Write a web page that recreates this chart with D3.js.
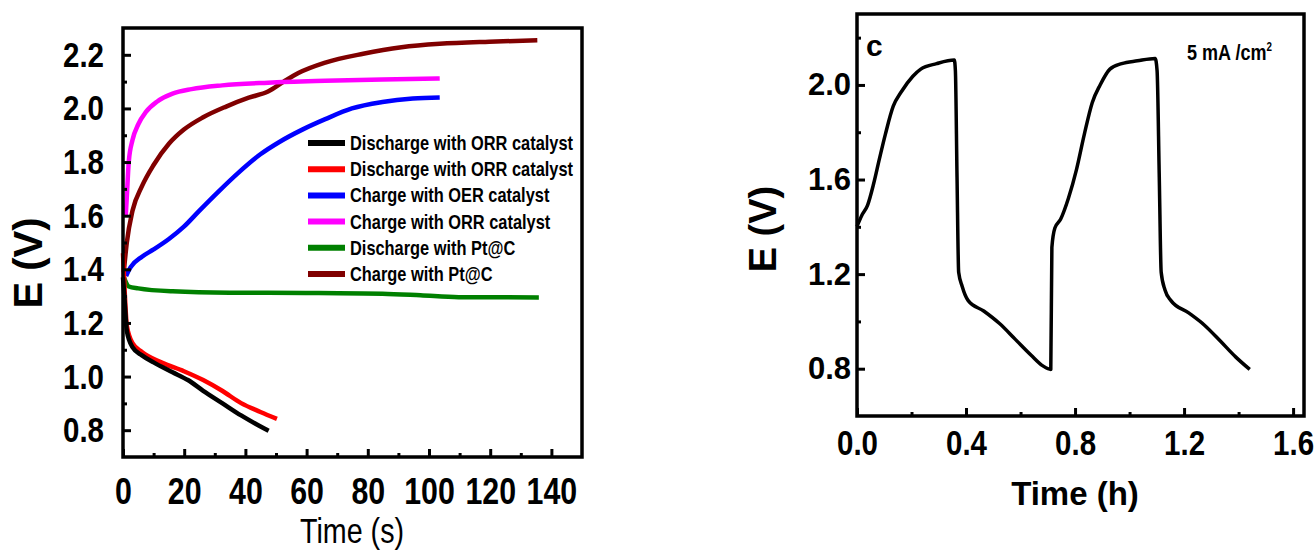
<!DOCTYPE html>
<html>
<head>
<meta charset="utf-8">
<script src="https://cdn.jsdelivr.net/npm/d3@7"></script>
<style>
  body { margin: 0; background: #fff; }
  svg { display: block; }
  text { font-family: 'Liberation Sans', Arial, sans-serif; }
</style>
</head>
<body>
<svg width="1314" height="552"></svg>
<script>
// ---- Данные левого графика (время, с / потенциал, В) ----
const blackT = [0, 0.5, 1.25, 3.1, 6.2, 10, 16.2, 21.2, 26.2, 32.4, 38.6, 43.6, 47.6];
const blackE = [1.37, 1.29, 1.17, 1.11, 1.079, 1.053, 1.016, 0.987, 0.947, 0.901, 0.855, 0.822, 0.798];

const redT = [0, 0.5, 1.25, 3.1, 6.2, 12.5, 19.9, 26.2, 32.4, 38.6, 44.9, 50.3];
const redE = [1.46, 1.33, 1.19, 1.125, 1.092, 1.053, 1.02, 0.987, 0.947, 0.901, 0.868, 0.842];

const blueT = [1, 2.5, 6.2, 10, 15, 19.9, 24.9, 31.2, 37.4, 44.9, 51.1, 58.6, 66.1, 74.8, 84.8, 94.7, 103.5];
const blueE = [1.375, 1.408, 1.447, 1.474, 1.513, 1.559, 1.618, 1.69, 1.757, 1.829, 1.875, 1.921, 1.96, 2.0, 2.024, 2.037, 2.041];

const magentaT = [0.9, 1.25, 1.9, 3.1, 5, 7.5, 11.2, 16.2, 22.4, 32.4, 47.4, 66.1, 84.8, 103.5];
const magentaE = [1.6, 1.671, 1.803, 1.882, 1.941, 1.987, 2.026, 2.055, 2.072, 2.086, 2.096, 2.103, 2.108, 2.112];

const greenT = [0.3, 1.9, 5, 16.2, 34.9, 59.8, 84.8, 97.2, 109.7, 135.9];
const greenE = [1.37, 1.336, 1.329, 1.318, 1.313, 1.312, 1.309, 1.303, 1.296, 1.295];

const brownT = [0.25, 1.25, 3.1, 6.2, 10, 15, 19.9, 26.2, 33.7, 41.1, 47.4, 52.4, 57.3, 66.1, 78.5, 91, 103.5, 119.7, 135.4];
const brownE = [1.39, 1.5, 1.618, 1.71, 1.789, 1.868, 1.921, 1.967, 2.007, 2.04, 2.063, 2.099, 2.132, 2.171, 2.204, 2.228, 2.241, 2.249, 2.254];

const legendNames = [
    "Discharge with ORR catalyst",
    "Discharge with ORR catalyst",
    "Charge with OER catalyst",
    "Charge with ORR catalyst",
    "Discharge with Pt@C",
    "Charge with Pt@C"
];
const leftTicksX = [0, 20, 40, 60, 80, 100, 120, 140];
const leftTicksY = [0.8, 1.0, 1.2, 1.4, 1.6, 1.8, 2.0, 2.2];

// ---- Данные правого графика (время, ч / потенциал, В) ----
const cycleT = [0, 0.017, 0.039, 0.061, 0.082, 0.104, 0.133, 0.162, 0.205, 0.234, 0.292, 0.357,
                0.361, 0.367, 0.373, 0.386, 0.408, 0.465, 0.523, 0.581, 0.639, 0.682, 0.711,
                0.715, 0.726, 0.747, 0.776, 0.805, 0.834, 0.863, 0.892, 0.928, 0.971, 1.029, 1.094,
                1.101, 1.109, 1.116, 1.13, 1.152, 1.217, 1.275, 1.333, 1.39, 1.441];
const cycleE = [1.402, 1.447, 1.492, 1.582, 1.686, 1.791, 1.91, 1.97, 2.037, 2.067, 2.09, 2.105,
                2.06, 1.611, 1.208, 1.148, 1.088, 1.044, 0.991, 0.924, 0.857, 0.812, 0.797,
                1.313, 1.395, 1.432, 1.522, 1.641, 1.791, 1.925, 2.0, 2.067, 2.09, 2.102, 2.112,
                2.06, 1.611, 1.208, 1.133, 1.088, 1.036, 0.984, 0.917, 0.849, 0.797];
const rightTicksX = [0.0, 0.4, 0.8, 1.2, 1.6];
const rightTicksY = [0.8, 1.2, 1.6, 2.0];

const NARROW = 0.82; // узкий шрифт имитируем сжатием по горизонтали

const svg = d3.select("svg");

// сборка точек серии из двух массивов
function zipSeries(ts, es) {
    return ts.map((t, i) => ({ t: t, e: es[i] }));
}

// текст узким начертанием в точке (x, y)
function narrowText(parent, x, y, str, size, bold) {
    return parent.append("text")
        .attr("transform", `translate(${x}, ${y}) scale(${NARROW}, 1)`)
        .style("font-size", size + "px")
        .style("font-weight", bold ? "bold" : "normal")
        .text(str);
}

// Рамка, оси с внутренними засечками
function drawFrame(g, scX, scY, area, opt) {
    const w = area.width, h = area.height;

    // основные засечки X
    const axX = g.append("g")
        .attr("transform", `translate(0, ${h})`)
        .call(d3.axisBottom(scX).tickValues(opt.ticksX).tickSize(-8)
            .tickPadding(opt.padX).tickFormat(opt.fmtX));
    axX.selectAll("text")
        .style("font-size", opt.fontX + "px").style("font-weight", "bold").attr("fill", "#000");
    if (opt.narrowX) axX.selectAll("text").attr("transform", `scale(${NARROW}, 1)`);

    // второстепенные засечки X
    g.append("g")
        .attr("transform", `translate(0, ${h})`)
        .call(d3.axisBottom(scX).tickValues(opt.minorX).tickSize(-4).tickFormat(""));

    // основные засечки Y
    const axY = g.append("g")
        .call(d3.axisLeft(scY).tickValues(opt.ticksY).tickSize(-8)
            .tickPadding(opt.padY).tickFormat(d3.format(".1f")));
    axY.selectAll("text")
        .style("font-size", opt.fontY + "px").style("font-weight", "bold").attr("fill", "#000");
    if (opt.narrowY) {
        axY.selectAll("text")
            .attr("x", -opt.padY / NARROW)
            .attr("transform", `scale(${NARROW}, 1)`);
    }

    g.append("g")
        .call(d3.axisLeft(scY).tickValues(opt.minorY).tickSize(-4).tickFormat(""));

    g.selectAll(".domain").remove();
    g.selectAll(".tick line").attr("stroke", "#000").attr("stroke-width", 3);

    g.append("rect")
        .attr("width", w).attr("height", h)
        .attr("fill", "none").attr("stroke", "#000").attr("stroke-width", 3.5);
}

// ---------- Левый график ----------
function drawLeft() {
    const area = { left: 123, top: 28, width: 459, height: 429 };
    const g = svg.append("g").attr("transform", `translate(${area.left}, ${area.top})`);

    const scX = d3.scaleLinear().domain([0, 150]).range([0, area.width]);
    const scY = d3.scaleLinear().domain([0.7, 2.3]).range([area.height, 0]);

    const series = [
        { data: zipSeries(blackT, blackE), color: "#000000" },
        { data: zipSeries(redT, redE), color: "#ff0000" },
        { data: zipSeries(blueT, blueE), color: "#0000ff" },
        { data: zipSeries(magentaT, magentaE), color: "#ff00ff" },
        { data: zipSeries(greenT, greenE), color: "#008000" },
        { data: zipSeries(brownT, brownE), color: "#800000" }
    ];

    const line = d3.line()
        .x(d => scX(d.t))
        .y(d => scY(d.e))
        .curve(d3.curveMonotoneX);

    // порядок отрисовки: зелёная и синяя снизу
    const order = [4, 2, 5, 3, 1, 0];
    order.forEach(i => {
        g.append("path")
            .datum(series[i].data)
            .attr("fill", "none")
            .attr("stroke", series[i].color)
            .attr("stroke-width", 4.5)
            .attr("d", line);
    });

    drawFrame(g, scX, scY, area, {
        ticksX: leftTicksX, minorX: d3.range(10, 150, 20), padX: 21, fontX: 37,
        fmtX: d3.format("d"), narrowX: true,
        ticksY: leftTicksY, minorY: d3.range(0.9, 2.3, 0.2), padY: 19, fontY: 36, narrowY: true
    });

    // легенда
    const leg = g.append("g").attr("transform", `translate(${308 - area.left}, ${143 - area.top})`);
    legendNames.forEach((name, i) => {
        const row = leg.append("g").attr("transform", `translate(0, ${i * 26.2})`);
        row.append("line")
            .attr("x1", 0).attr("x2", 37).attr("y1", 0).attr("y2", 0)
            .attr("stroke", series[i].color).attr("stroke-width", 6);
        narrowText(row, 42, 7, name, 20, true);
    });

    // подписи осей
    narrowText(svg, 352, 543, "Time (s)", 35, false)
        .attr("text-anchor", "middle");

    svg.append("text")
        .attr("transform", "translate(42, 263) rotate(-90)")
        .attr("text-anchor", "middle")
        .style("font-size", "40px").style("font-weight", "bold")
        .text("E (V)");
}

// ---------- Правый график ----------
function drawRight() {
    const area = { left: 857, top: 14, width: 447, height: 402 };
    const g = svg.append("g").attr("transform", `translate(${area.left}, ${area.top})`);

    const scX = d3.scaleLinear().domain([0, 1.64]).range([0, area.width]);
    const scY = d3.scaleLinear().domain([0.6, 2.3]).range([area.height, 0]);

    const line = d3.line()
        .x(d => scX(d.t))
        .y(d => scY(d.e))
        .curve(d3.curveMonotoneX);

    g.append("path")
        .datum(zipSeries(cycleT, cycleE))
        .attr("fill", "none")
        .attr("stroke", "#000")
        .attr("stroke-width", 3.5)
        .attr("stroke-linejoin", "round")
        .attr("d", line);

    drawFrame(g, scX, scY, area, {
        ticksX: rightTicksX, minorX: [0.2, 0.6, 1.0, 1.4], padX: 13, fontX: 36,
        fmtX: d3.format(".1f"), narrowX: true,
        ticksY: rightTicksY, minorY: [1.0, 1.4, 1.8, 2.2], padY: 6, fontY: 31, narrowY: false
    });

    g.append("text")
        .attr("x", 9).attr("y", 42)
        .style("font-size", "30px").style("font-weight", "bold")
        .text("c");

    const lab = narrowText(g, 330, 46, "5 mA /cm", 22, true);
    lab.append("tspan")
        .attr("dy", -9)
        .style("font-size", "12px")
        .text("2");

    svg.append("text")
        .attr("x", 1075).attr("y", 505)
        .attr("text-anchor", "middle")
        .style("font-size", "33px").style("font-weight", "bold")
        .text("Time (h)");

    svg.append("text")
        .attr("transform", "translate(776, 229) rotate(-90)")
        .attr("text-anchor", "middle")
        .style("font-size", "38px").style("font-weight", "bold")
        .text("E (V)");
}

drawLeft();
drawRight();
</script>
</body>
</html>
